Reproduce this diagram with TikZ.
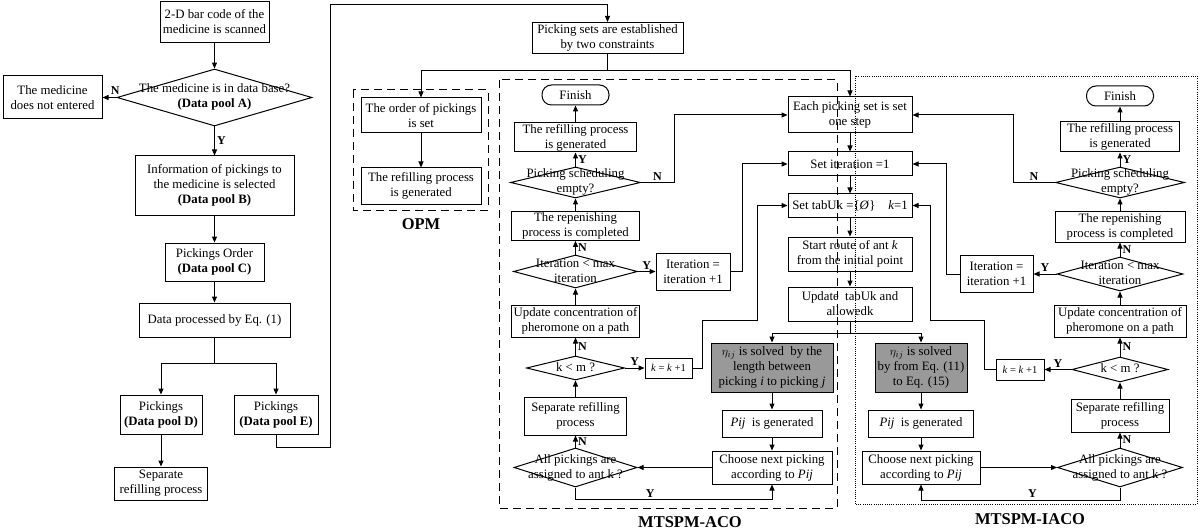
\documentclass[tikz,border=0pt]{standalone}
\usepackage{fontspec}
\setmainfont{Liberation Serif}
\usetikzlibrary{shapes.geometric,arrows.meta}
\newcommand{\dlines}[1]{\makebox[0pt]{\begin{tabular}{@{}c@{}}#1\end{tabular}}}

\begin{document}
\begin{tikzpicture}[x=1pt, y=-1pt, line width=1pt, >={Triangle[length=6pt,width=5pt]},
	every node/.style={font=\fontsize{12.8}{15}\selectfont},
	box/.style 2 args={draw, align=center, inner sep=1pt, minimum width=#1pt, minimum height=#2pt},
	dia/.style 2 args={draw, diamond, aspect=1, inner sep=0pt, minimum width=#1pt, minimum height=#2pt},
	grey/.style={fill=black!40},
	term/.style={draw, rounded corners=9.5pt, minimum width=67pt, minimum height=20pt, inner sep=1pt},
	small/.style={font=\fontsize{10.5}{12}\selectfont},
	yn/.style={font=\fontsize{12}{14}\selectfont\bfseries, inner sep=2pt},
	boxtitle/.style={font=\fontsize{16.5}{18}\selectfont\bfseries},
	acoframe/.style={dash pattern=on 8pt off 5pt},
	iacoframe/.style={line width=0.6pt, dash pattern=on 1pt off 1.2pt}]
	\useasboundingbox (0,0) rectangle (1200,532);
	% left column
	\node[box={109}{41}] (scan) at (214.5,22) {2-D bar code of the\\medicine is scanned};
	\node[dia={195}{57}] (inbase) at (214.5,97.5) {\dlines{The medicine is in data base?\\\textbf{(Data pool A)}}};
	\node[box={99}{43}] (noent) at (52.5,97.5) {The medicine\\does not entered};
	\node[box={159}{59}] (info) at (214.5,185.5) {Information of pickings to\\the medicine is selected\\\textbf{(Data pool B)}};
	\node[box={99}{38}] (poolC) at (214.5,262) {Pickings Order\\\textbf{(Data pool C)}};
	\node[box={151}{34}] (eq1) at (214.5,320) {Data processed by Eq. (1)};
	\node[box={82}{39}] (poolD) at (161,414.5) {Pickings\\\textbf{(Data pool D)}};
	\node[box={84}{39}] (poolE) at (276,414.5) {Pickings\\\textbf{(Data pool E)}};
	\node[box={93}{33}] (sepL) at (161,483.5) {Separate\\refilling process};
	\draw[->] (scan) -- (inbase);
	\draw[->] (inbase.west) -- node[yn, above, pos=0.1] {N} (noent.east);
	\draw[->] (inbase) -- node[yn, right] {Y} (info);
	\draw[->] (info) -- (poolC);
	\draw[->] (poolC) -- (eq1);
	\draw (eq1.south) -- ++(0,26) coordinate (split);
	\draw[->] (split) -| (poolD);
	\draw[->] (split) -| (poolE);
	\draw[->] (poolD) -- (sepL);
	% picking sets and OPM
	\node[box={151}{31}] (sets) at (607.5,38) {Picking sets are established\\by two constraints};
	\draw[->] (poolE.south) -- ++(0,13) -| (330,5) -| (sets.north);
	\node[box={120}{35}] (ord) at (421,115.5) {The order of pickings\\is set};
	\node[box={120}{36}] (refO) at (421,186) {The refilling process\\is generated};
	\draw[->] (ord) -- (refO);
	\draw[acoframe] (353,90) rectangle (488,210);
	\node[boxtitle] (opm) at (421,224) {OPM};
	% shared column
	\node[box={124}{36}] (each) at (850,115) {Each picking set is set\\one step};
	\node[box={124}{24}] (iter1) at (850,164) {Set iteration =1};
	\node[box={124}{23}] (tabu) at (850,205.5) {Set tabUk =\{\textit{Ø}\}\quad\textit{k}=1};
	\node[box={124}{34}] (start) at (850,254) {Start route of ant \textit{k}\\from the initial point};
	\node[box={124}{34}] (upd) at (850,304) {Update~ tabUk and\\allowedk};
	\draw (sets.south) -- ++(0,17) coordinate (top);
	\draw[->] (top) -| (ord);
	\draw[->] (top) -| (each);
	\draw[->] (each) -- (iter1);
	\draw[->] (iter1) -- (tabu);
	\draw[->] (tabu) -- (start);
	\draw[->] (start) -- (upd);
	\draw (upd.south) -- ++(0,12) coordinate (fork);
	% MTSPM-ACO
	\node[box={122}{49}, grey] (etaA) at (772,367.5) {$\eta_{ij}$ is solved~ by the\\length between\\picking \textit{i} to picking \textit{j}};
	\node[box={100}{27}] (pijA) at (772,423.5) {\textit{Pij}~ is generated};
	\node[box={120}{33}] (nextA) at (772,467.5) {Choose next picking\\according to \textit{Pij}};
	\node[term] (finA) at (575.5,95) {Finish};
	\node[box={122}{29}] (refA) at (575.5,137.5) {The refilling process\\is generated};
	\node[dia={130}{31}] (emptyA) at (575.5,182.5) {\dlines{Picking scheduling\\empty?}};
	\node[box={128}{28}] (repA) at (575.5,226) {The repenishing\\process is completed};
	\node[dia={124}{33}] (maxA) at (575.5,271.5) {\dlines{Iteration < max\\iteration}};
	\node[box={74}{37}] (incA) at (693,271.5) {Iteration =\\iteration +1};
	\node[box={128}{32}] (pherA) at (575.5,321) {Update concentration of\\pheromone on a path};
	\node[dia={98}{24}] (kmA) at (575.5,368) {\dlines{k < m ?}};
	\node[box={47}{20}, small] (kincA) at (668.5,368) {\textit{k} = \textit{k} +1};
	\node[box={102}{38}] (sepA) at (575.5,416) {Separate refilling\\process};
	\node[dia={123}{39}] (allA) at (575.5,467.5) {\dlines{All pickings are\\assigned to ant k ?}};
	\draw[->] (fork) -| (etaA);
	\draw[->] (etaA) -- (pijA);
	\draw[->] (pijA) -- (nextA);
	\draw[->] (nextA) -- (allA);
	\draw[->] (allA.south) -- ++(0,12) -| node[yn, above, pos=0.19] {Y} (nextA.south);
	\draw[->] (allA) -- node[yn, right] {N} (sepA);
	\draw[->] (sepA) -- (kmA);
	\draw[->] (kmA) -- node[yn, right] {N} (pherA);
	\draw[->] (kmA) -- node[yn, above] {Y} (kincA);
	\draw[->] (kincA.east) -- ++(10,0) |- (757,320) |- (tabu.west);
	\draw[->] (pherA) -- (maxA);
	\draw[->] (maxA) -- node[yn, right] {N} (repA);
	\draw[->] (maxA) -- node[yn, above] {Y} (incA);
	\draw[->] (incA.east) -- ++(12,0) |- (iter1.west);
	\draw[->] (repA) -- (emptyA);
	\draw[->] (emptyA) -- node[yn, right] {Y} (refA);
	\draw[->] (emptyA.east) -- node[yn, above] {N} ++(33,0) |- (each.west);
	\draw[->] (refA) -- (finA);
	\draw[acoframe] (499,80) rectangle (837,508);
	\node[boxtitle] (aco) at (690,522) {MTSPM-ACO};
	% MTSPM-IACO
	\node[box={92}{49}, grey] (etaB) at (921,367.5) {$\eta_{ij}$ is solved\\by from Eq. (11)\\to Eq. (15)};
	\node[box={105}{27}] (pijB) at (921,423.5) {\textit{Pij}~ is generated};
	\node[box={118}{33}] (nextB) at (921,467.5) {Choose next picking\\according to \textit{Pij}};
	\node[term] (finB) at (1120,96) {Finish};
	\node[box={119}{30}] (refB) at (1120,137) {The refilling process\\is generated};
	\node[dia={129}{31}] (emptyB) at (1120,182.5) {\dlines{Picking scheduling\\empty?}};
	\node[box={130}{31}] (repB) at (1120,226.5) {The repenishing\\process is completed};
	\node[dia={126}{34}] (maxB) at (1120,274) {\dlines{Iteration < max\\iteration}};
	\node[box={73}{37}] (incB) at (996.5,274) {Iteration =\\iteration +1};
	\node[box={132}{32}] (pherB) at (1120,321) {Update concentration of\\pheromone on a path};
	\node[dia={96}{25}] (kmB) at (1120,369.5) {\dlines{k < m ?}};
	\node[box={48}{21}, small] (kincB) at (1020,369.5) {\textit{k} = \textit{k} +1};
	\node[box={98}{33}] (sepB) at (1120,415.5) {Separate refilling\\process};
	\node[dia={125}{39}] (allB) at (1120,467.5) {\dlines{All pickings are\\assigned to ant k ?}};
	\draw[->] (fork) -| (etaB);
	\draw[->] (etaB) -- (pijB);
	\draw[->] (pijB) -- (nextB);
	\draw[->] (nextB) -- (allB);
	\draw[->] (allB.south) -- ++(0,12.5) -| node[yn, above, pos=0.22] {Y} (nextB.south);
	\draw[->] (allB) -- node[yn, right] {N} (sepB);
	\draw[->] (sepB) -- (kmB);
	\draw[->] (kmB) -- node[yn, right] {N} (pherB);
	\draw[->] (kmB) -- node[yn, above] {Y} (kincB);
	\draw[->] (kincB.west) -- ++(-11,0) |- (930,320) |- (tabu.east);
	\draw[->] (pherB) -- (maxB);
	\draw[->] (maxB) -- node[yn, right] {N} (repB);
	\draw[->] (maxB) -- node[yn, above] {Y} (incB);
	\draw[->] (incB.west) -- ++(-13,0) |- (iter1.east);
	\draw[->] (repB) -- (emptyB);
	\draw[->] (emptyB) -- node[yn, right] {Y} (refB);
	\draw[->] (emptyB.west) -- node[yn, above] {N} ++(-42,0) |- (each.east);
	\draw[->] (refB) -- (finB);
	\draw[iacoframe] (855,76) rectangle (1197,504);
	\node[boxtitle] (iaco) at (1030,519) {MTSPM-IACO};
\end{tikzpicture}
\end{document}
